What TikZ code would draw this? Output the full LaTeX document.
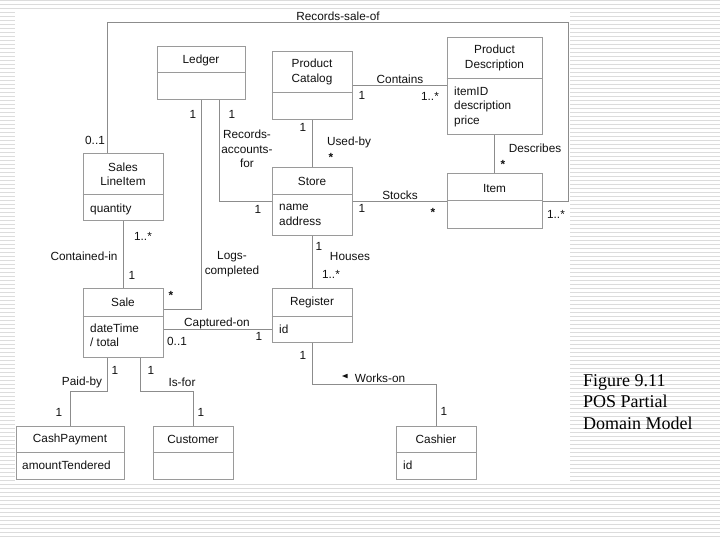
\documentclass[tikz,border=0pt]{standalone}
\usepackage{fontspec}
\setmainfont{Liberation Sans}
\newfontfamily\captionserif{Liberation Serif}
\usetikzlibrary{shapes.geometric}
\definecolor{linegray}{HTML}{8C8C8C}
\definecolor{boxgray}{HTML}{9A9A9A}
\definecolor{stripegray}{HTML}{DCDCDC}
\definecolor{textgray}{HTML}{111111}
\begin{document}
\begin{tikzpicture}[x=1pt,y=-1pt,
    cls/.style={draw=boxgray, line width=1pt, inner sep=0pt},
    txt/.style={font=\fontsize{11.8}{14.5}\selectfont, text=textgray, inner sep=0pt, align=center},
    attr/.style={txt, align=left, anchor=west},
    assoc/.style={draw=linegray, line width=1pt}]
  \useasboundingbox (0,0) rectangle (720,540);
  % striped page background
  \foreach \y in {0,4,...,540}
    \draw[stripegray, line width=0.7pt] (0,\y) -- (720,\y);
  \fill[white] (15,12) rectangle (570,482);

  % classes
  \node[cls, minimum width=88pt, minimum height=53pt] (ledger) at (201,73.5) {};
  \node[cls, minimum width=80pt, minimum height=68pt] (catalog) at (312,86) {};
  \node[cls, minimum width=95pt, minimum height=97pt] (desc) at (494.5,86.5) {};
  \node[cls, minimum width=80pt, minimum height=67pt] (sli) at (123,187.5) {};
  \node[cls, minimum width=80pt, minimum height=67pt] (store) at (312,201.5) {};
  \node[cls, minimum width=95pt, minimum height=55pt] (item) at (494.5,201.5) {};
  \node[cls, minimum width=80pt, minimum height=69pt] (sale) at (123,322.5) {};
  \node[cls, minimum width=80pt, minimum height=54pt] (register) at (312,315) {};
  \node[cls, minimum width=108pt, minimum height=53pt] (cash) at (70,452.5) {};
  \node[cls, minimum width=80pt, minimum height=53pt] (customer) at (193,452.5) {};
  \node[cls, minimum width=80pt, minimum height=53pt] (cashier) at (436,452.5) {};
  \begin{scope}[boxgray, line width=1pt]
    \draw (ledger.west |- 0,73) -- (ledger.east |- 0,73);
    \draw (catalog.west |- 0,93) -- (catalog.east |- 0,93);
    \draw (desc.west |- 0,79) -- (desc.east |- 0,79);
    \draw (sli.west |- 0,195) -- (sli.east |- 0,195);
    \draw (store.west |- 0,195) -- (store.east |- 0,195);
    \draw (item.west |- 0,201) -- (item.east |- 0,201);
    \draw (sale.west |- 0,316) -- (sale.east |- 0,316);
    \draw (register.west |- 0,316) -- (register.east |- 0,316);
    \draw (cash.west |- 0,452) -- (cash.east |- 0,452);
    \draw (customer.west |- 0,452) -- (customer.east |- 0,452);
    \draw (cashier.west |- 0,452) -- (cashier.east |- 0,452);
  \end{scope}

  % names and attributes
  \node[txt] (ledger-t) at (201,60) {Ledger};
  \node[txt] (catalog-t) at (312,72) {Product\\Catalog};
  \node[txt] (desc-t) at (494.5,58) {Product\\Description};
  \node[txt] (sli-t) at (123,174.5) {Sales\\LineItem};
  \node[txt] (store-t) at (312,181) {Store};
  \node[txt] (item-t) at (494.5,188) {Item};
  \node[txt] (sale-t) at (123,302) {Sale};
  \node[txt] (register-t) at (312,302) {Register};
  \node[txt] (cash-t) at (70,439) {CashPayment};
  \node[txt] (customer-t) at (193,439) {Customer};
  \node[txt] (cashier-t) at (436,439) {Cashier};
  \node[attr] (desc-a) at (454,106.5) {itemID\\description\\price};
  \node[attr] (sli-a) at (90,209) {quantity};
  \node[attr] (store-a) at (279,215) {name\\address};
  \node[attr] (sale-a) at (90,335.5) {dateTime\\/ total};
  \node[attr] (register-a) at (279,329) {id};
  \node[attr] (cash-a) at (22,465) {amountTendered};
  \node[attr] (cashier-a) at (403,465) {id};

  % associations
  \coordinate (rs1) at (568,23);
  \coordinate (rs2) at (107,23);
  \coordinate (wo) at (0,384);
  \coordinate (pay) at (0,391);
  \begin{scope}[assoc]
    \draw (item.east) -| (rs1) -- (rs2) -- (rs2 |- sli.north);
    \draw (catalog.east) -- (catalog.east -| desc.west);
    \draw (desc.south) -- (item.north);
    \draw (catalog.south) -- (store.north);
    \draw (store.east) -- (item.west);
    \draw (ledger.south -| 219,0) |- (store.west);
    \draw (ledger.south) |- (sale.east |- 0,309);
    \draw (sli.south) -- (sale.north);
    \draw (store.south) -- (register.north);
    \draw (sale.east |- 0,329) -- (register.west |- 0,329);
    \draw (register.south) |- (cashier.north |- wo) -- (cashier.north);
    \draw (sale.south -| 107,0) |- (cash.north |- pay) -- (cash.north);
    \draw (sale.south -| 140,0) |- (customer.north |- pay) -- (customer.north);
  \end{scope}

  % association names and multiplicities
  \node[txt] (rso) at (338,16) {Records-sale-of};
  \node[txt] (rso-a) at (95,140) {0..1};
  \node[txt] (rso-b) at (556,214) {1..*};
  \node[txt] (con) at (400,79) {Contains};
  \node[txt] (con-a) at (362,95) {1};
  \node[txt] (con-b) at (430,96) {1..*};
  \node[txt] (des) at (535,148) {Describes};
  \node[txt] (des-b) at (503,164) {\textbf{*}};
  \node[txt] (use) at (349,142) {Used-by};
  \node[txt] (use-a) at (303,127) {1};
  \node[txt] (use-b) at (331,157) {\textbf{*}};
  \node[txt] (sto) at (400,195) {Stocks};
  \node[txt] (sto-a) at (362,208) {1};
  \node[txt] (sto-b) at (433,212) {\textbf{*}};
  \node[txt] (rac) at (247,149) {Records-\\accounts-\\for};
  \node[txt] (rac-a) at (232,114) {1};
  \node[txt] (rac-b) at (258,209) {1};
  \node[txt] (log) at (232,264) {Logs-\\completed};
  \node[txt] (log-a) at (193,114) {1};
  \node[txt] (log-b) at (171,295) {\textbf{*}};
  \node[txt] (cin) at (84,256) {Contained-in};
  \node[txt] (cin-a) at (143,236) {1..*};
  \node[txt] (cin-b) at (132,275) {1};
  \node[txt] (hou) at (350,256) {Houses};
  \node[txt] (hou-a) at (319,246) {1};
  \node[txt] (hou-b) at (331,274) {1..*};
  \node[txt] (cap) at (217,323) {Captured-on};
  \node[txt] (cap-a) at (177,341) {0..1};
  \node[txt] (cap-b) at (259,336) {1};
  \node[txt] (wrk) at (380,378) {Works-on};
  \node[isosceles triangle, shape border rotate=180, fill=textgray, inner sep=0pt,
    minimum height=3pt, minimum width=4.5pt] (wrk-dir) at (346,376) {};
  \node[txt] (wrk-a) at (303,355) {1};
  \node[txt] (wrk-b) at (444,411) {1};
  \node[txt] (pby) at (82,382) {Paid-by};
  \node[txt] (pby-a) at (115,370) {1};
  \node[txt] (pby-b) at (59,412) {1};
  \node[txt] (isf) at (182,382) {Is-for};
  \node[txt] (isf-a) at (151,370) {1};
  \node[txt] (isf-b) at (201,412) {1};

  % caption
  \node[anchor=base west, align=left, inner sep=0pt,
    font=\captionserif\fontsize{18}{21.5}\selectfont] (fig) at (583,429)
    {Figure 9.11\\POS Partial\\Domain Model};
\end{tikzpicture}
\end{document}
